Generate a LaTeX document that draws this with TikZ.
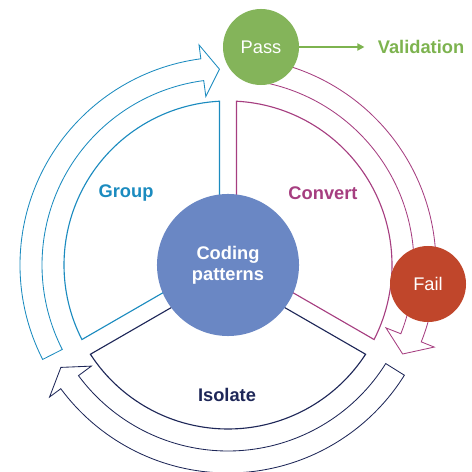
\documentclass[tikz,border=0pt]{standalone}
\usepackage{fontspec}
\setmainfont{Liberation Sans}
\usetikzlibrary{arrows.meta}

\definecolor{passgreen}{HTML}{84B45A}
\definecolor{failred}{HTML}{C0462B}
\definecolor{coreblue}{HTML}{6A87C4}
\definecolor{groupteal}{HTML}{1B8BBF}
\definecolor{convmag}{HTML}{A63E80}
\definecolor{isonavy}{HTML}{1E2758}
\definecolor{valgreen}{HTML}{7DB34F}

\tikzset{
  sector/.style={line width=0.8pt, line join=miter},
  cyclearrow/.style={line width=0.6pt, line join=miter},
  result/.style={circle, inner sep=0pt, minimum size=1.9cm, text=white, font=\fontsize{13}{15}\selectfont},
  phase/.style={font=\fontsize{13}{15}\selectfont\bfseries},
}

\begin{document}
\begin{tikzpicture}[x=0.025cm, y=0.025cm]
  \useasboundingbox (-228,-207) rectangle (244,265);

  % the three sectors round the core
  \foreach \a/\c in {90/groupteal, 210/isonavy, -30/convmag}
    \draw[sector, \c] ({\a+90}:8.5) -- ({\a+2.97}:164) arc[start angle={\a+2.97}, end angle={\a+117.03}, radius=164] -- ({\a+30}:8.5) -- cycle;

  % outer cycle arrows
  \draw[cyclearrow, groupteal] (207:208) arc[start angle=207, end angle=97.5, radius=208] -- (97.5:222) -- (92.5:196) -- (97.5:170) -- (97.5:186) arc[start angle=97.5, end angle=207, radius=186] -- cycle;
  \draw[cyclearrow, convmag] (81:208) arc[start angle=81, end angle=-21.7, radius=208] -- (-21.7:222) -- (-27:196) -- (-21.7:170) -- (-21.7:186) arc[start angle=-21.7, end angle=81, radius=186] -- cycle;
  \draw[cyclearrow, isonavy] (-32:208) arc[start angle=-32, end angle=-143.5, radius=208] -- (-143.5:222) -- (-148.5:196) -- (-143.5:170) -- (-143.5:186) arc[start angle=-143.5, end angle=-32, radius=186] -- cycle;

  \node[circle, fill=coreblue, inner sep=0pt, minimum size=3.55cm, text=white, align=center, font=\fontsize{13}{15}\selectfont\bfseries] (core) at (0,0) {Coding\\patterns};
  \node[result, fill=passgreen] (pass) at (33,218) {Pass};
  \node[result, fill=failred] (fail) at (200,-19) {Fail};
  \node[phase, text=valgreen] (valid) at (193,218) {Validation};
  \draw[valgreen, line width=1.2pt, -{Triangle[length=5pt, width=5pt]}, shorten >=6pt] (pass) -- (valid);

  \node[phase, text=groupteal] (group) at (-102,72) {Group};
  \node[phase, text=convmag] (convert) at (95,72) {Convert};
  \node[phase, text=isonavy] (isolate) at (-1,-130) {Isolate};
\end{tikzpicture}
\end{document}
